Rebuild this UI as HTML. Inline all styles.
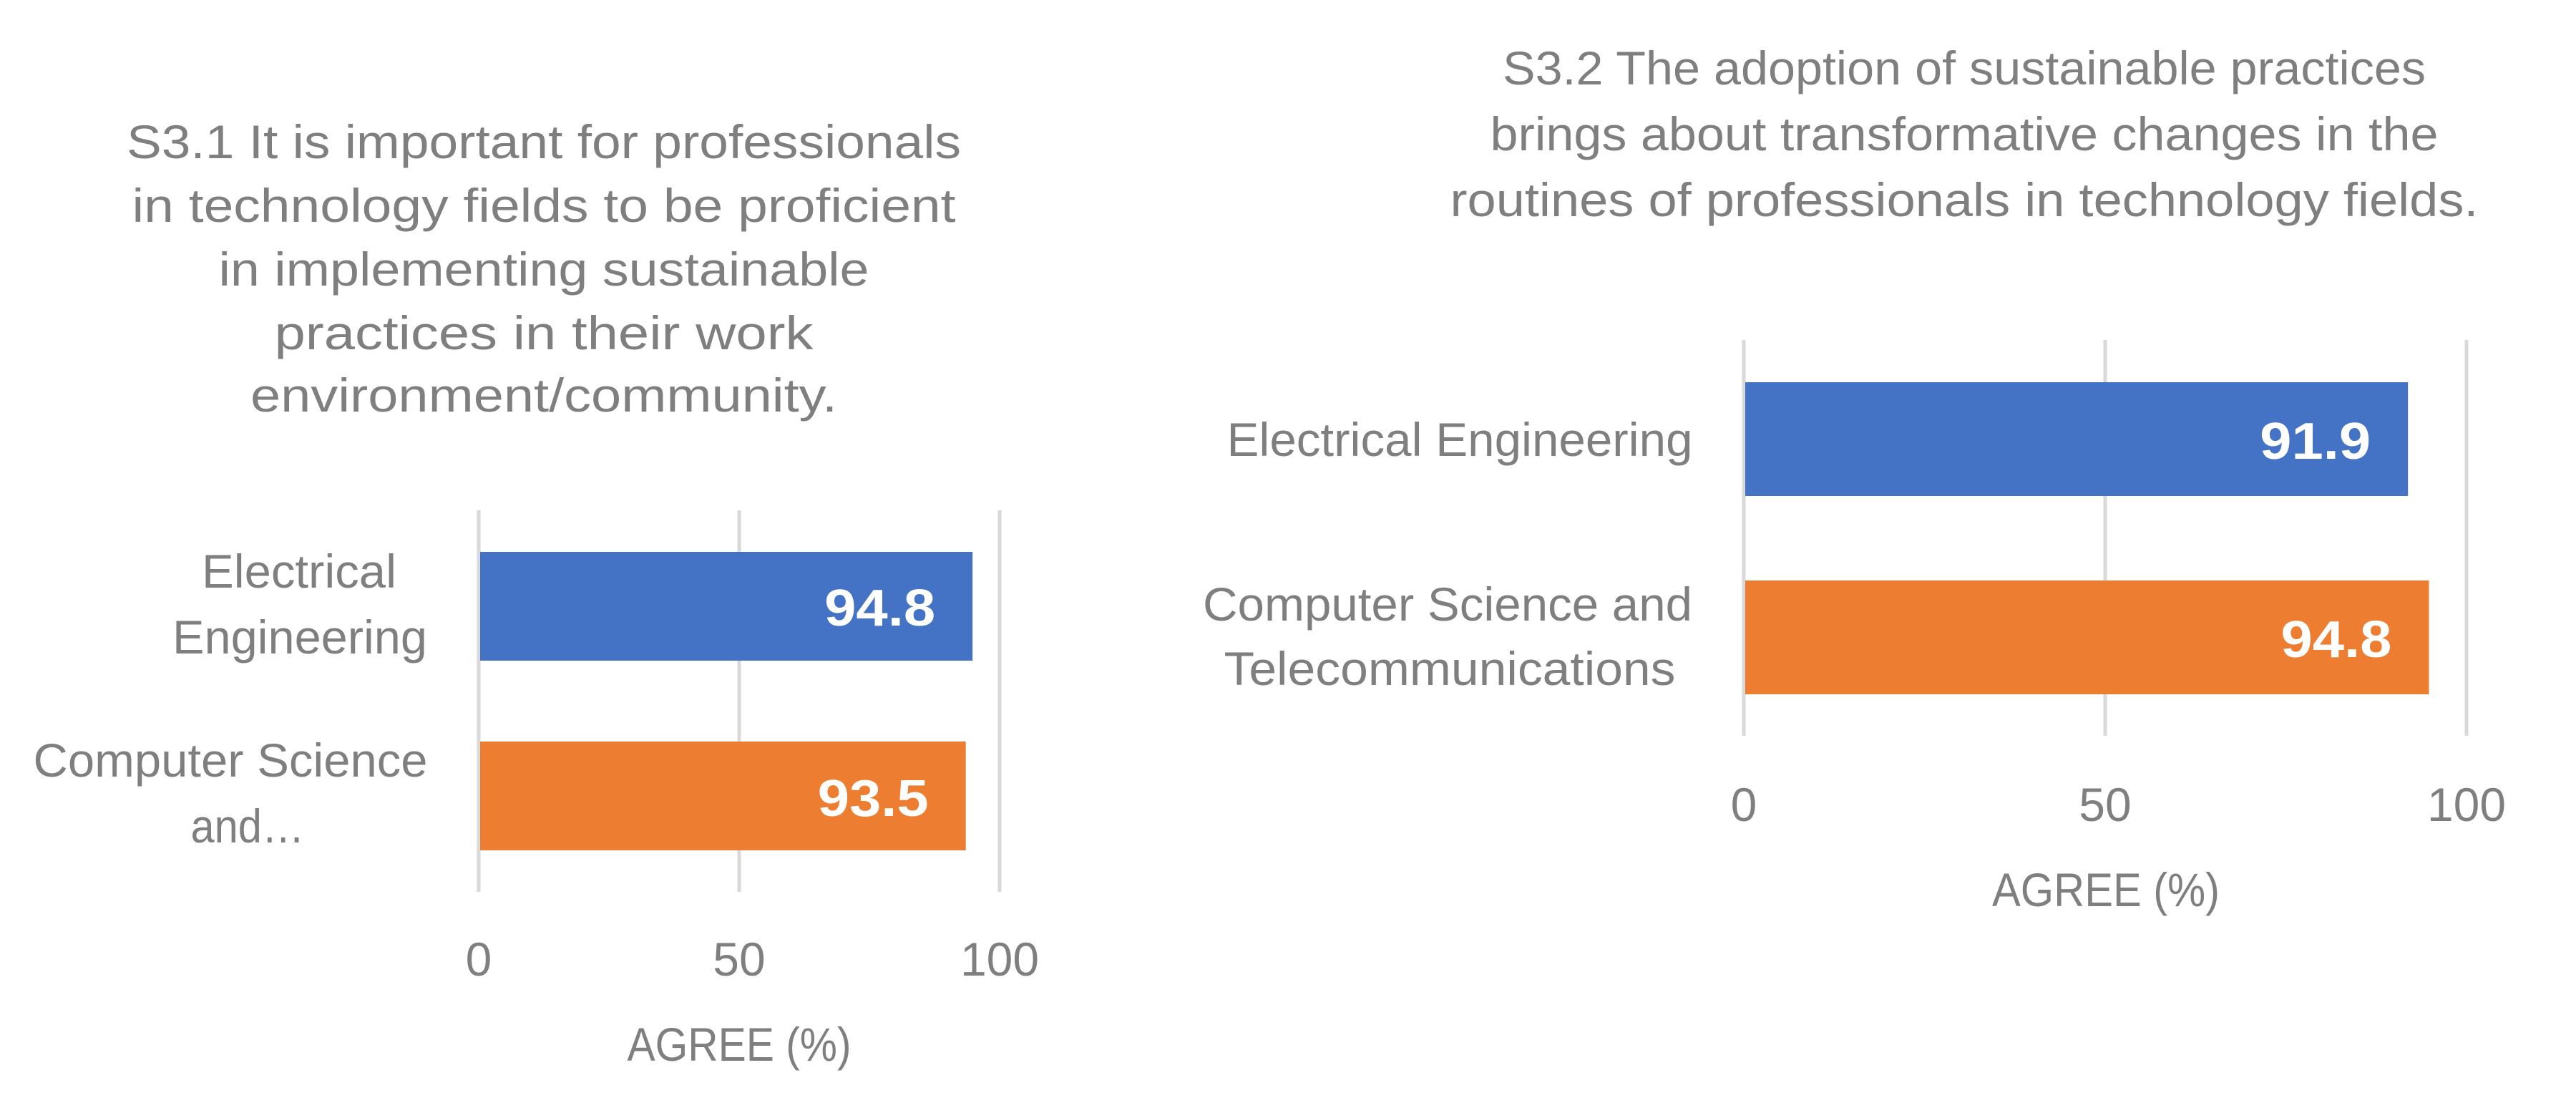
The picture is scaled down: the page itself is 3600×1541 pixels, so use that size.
<!DOCTYPE html>
<html><head><meta charset="utf-8"><style>
html,body{margin:0;padding:0;background:#fff;}
svg{display:block;}
text{font-family:"Liberation Sans",sans-serif;fill:#7f7f7f;}
</style></head><body>
<svg id="chart" width="3600" height="1541" viewBox="0 0 3600 1541" xmlns="http://www.w3.org/2000/svg"></svg>
<script>
const ticks = [0, 50, 100];
const tickLabels = ["0", "50", "100"];
const chart1Values = [94.8, 93.5];
const chart1Labels = ["94.8", "93.5"];
const chart2Values = [91.9, 94.8];
const chart2Labels = ["91.9", "94.8"];
const colors = ["#4472C4", "#ED7D31"];

const svg = document.getElementById('chart');
const NS = 'http://www.w3.org/2000/svg';
function mk(tag, attrs, parent){
  const e = document.createElementNS(NS, tag);
  for (const k in attrs) e.setAttribute(k, attrs[k]);
  (parent||svg).appendChild(e);
  return e;
}
function txt(str, x, y, size, anchor, len, parent, bold){
  const t = mk('text', {x:x, y:y, 'font-size':size, 'text-anchor':anchor}, parent);
  if (len) { t.setAttribute('textLength', len); t.setAttribute('lengthAdjust', 'spacingAndGlyphs'); }
  if (bold) { t.setAttribute('font-weight', 'bold'); t.style.fill = '#fff'; }
  t.textContent = str;
  return t;
}

const panels = [
  {name:'s3-1', x0:669, x100:1397, gTop:713, gBot:1246,
   bars:[[771,923],[1036,1188]], values:chart1Values, vlabels:chart1Labels,
   vBase:[874,1140], vW:[155,155],
   title:["S3.1 It is important for professionals","in technology fields to be proficient","in implementing sustainable","practices in their work","environment/community."],
   titleW:[1166,1151,909,753,820], titleX:760, titleBase:[221,310,399,488,575],
   cats:[[["Electrical",272],["Engineering",356]],[["Computer Science",551],["and…",159]]],
   catX:[[418,419],[322,346]], catBase:[[821,913],[1085,1177]], catAnchor:'middle',
   tickBase:1363, axisTitle:["AGREE (%)",313,1033,1482]},
  {name:'s3-2', x0:2437, x100:3447, gTop:475, gBot:1028,
   bars:[[534,693],[811,970]], values:chart2Values, vlabels:chart2Labels,
   vBase:[641,918], vW:[155,155],
   title:["S3.2 The adoption of sustainable practices","brings about transformative changes in the","routines of professionals in technology fields."],
   titleW:[1290,1325,1437], titleX:2745, titleBase:[118,210,302],
   cats:[[["Electrical Engineering",651]],[["Computer Science and",684],["Telecommunications",631]]],
   catX:[[2040],[2023,2026]], catBase:[[637],[867,957]], catAnchor:'middle',
   tickBase:1147, axisTitle:["AGREE (%)",318,2943,1266]}
];

panels.forEach(p => {
  const g = mk('g', {});
  
  
  const xs = v => p.x0 + (p.x100 - p.x0) * v / 100;
  const tg = mk('g', {}, g);
  
  
  p.title.forEach((l,i) => txt(l, p.titleX, p.titleBase[i], 66, 'middle', p.titleW[i], tg));
  ticks.forEach((t,i) => {
    const ln = mk('line', {x1:xs(t), x2:xs(t), y1:p.gTop, y2:p.gBot, stroke:'#d9d9d9', 'stroke-width':5}, g);
    
    
    const tl = txt(tickLabels[i], xs(t), p.tickBase, 66, 'middle', null, g);
    
    
  });
  p.values.forEach((v,i) => {
    const r = mk('rect', {x:xs(0)+2, y:p.bars[i][0], width:xs(v)-xs(0)-2, height:p.bars[i][1]-p.bars[i][0], fill:colors[i]}, g);
    
    
    const vl = txt(p.vlabels[i], xs(v) - 52, p.vBase[i], 72, 'end', p.vW[i], g, true);
    
    
    p.cats[i].forEach((c,j) => {
      const cl = txt(c[0], p.catX[i][j], p.catBase[i][j], 66, p.catAnchor, c[1], g);
      
      
    });
  });
  const at = txt(p.axisTitle[0], p.axisTitle[2], p.axisTitle[3], 66, 'middle', p.axisTitle[1], g);
  
  
});
</script>
</body></html>
